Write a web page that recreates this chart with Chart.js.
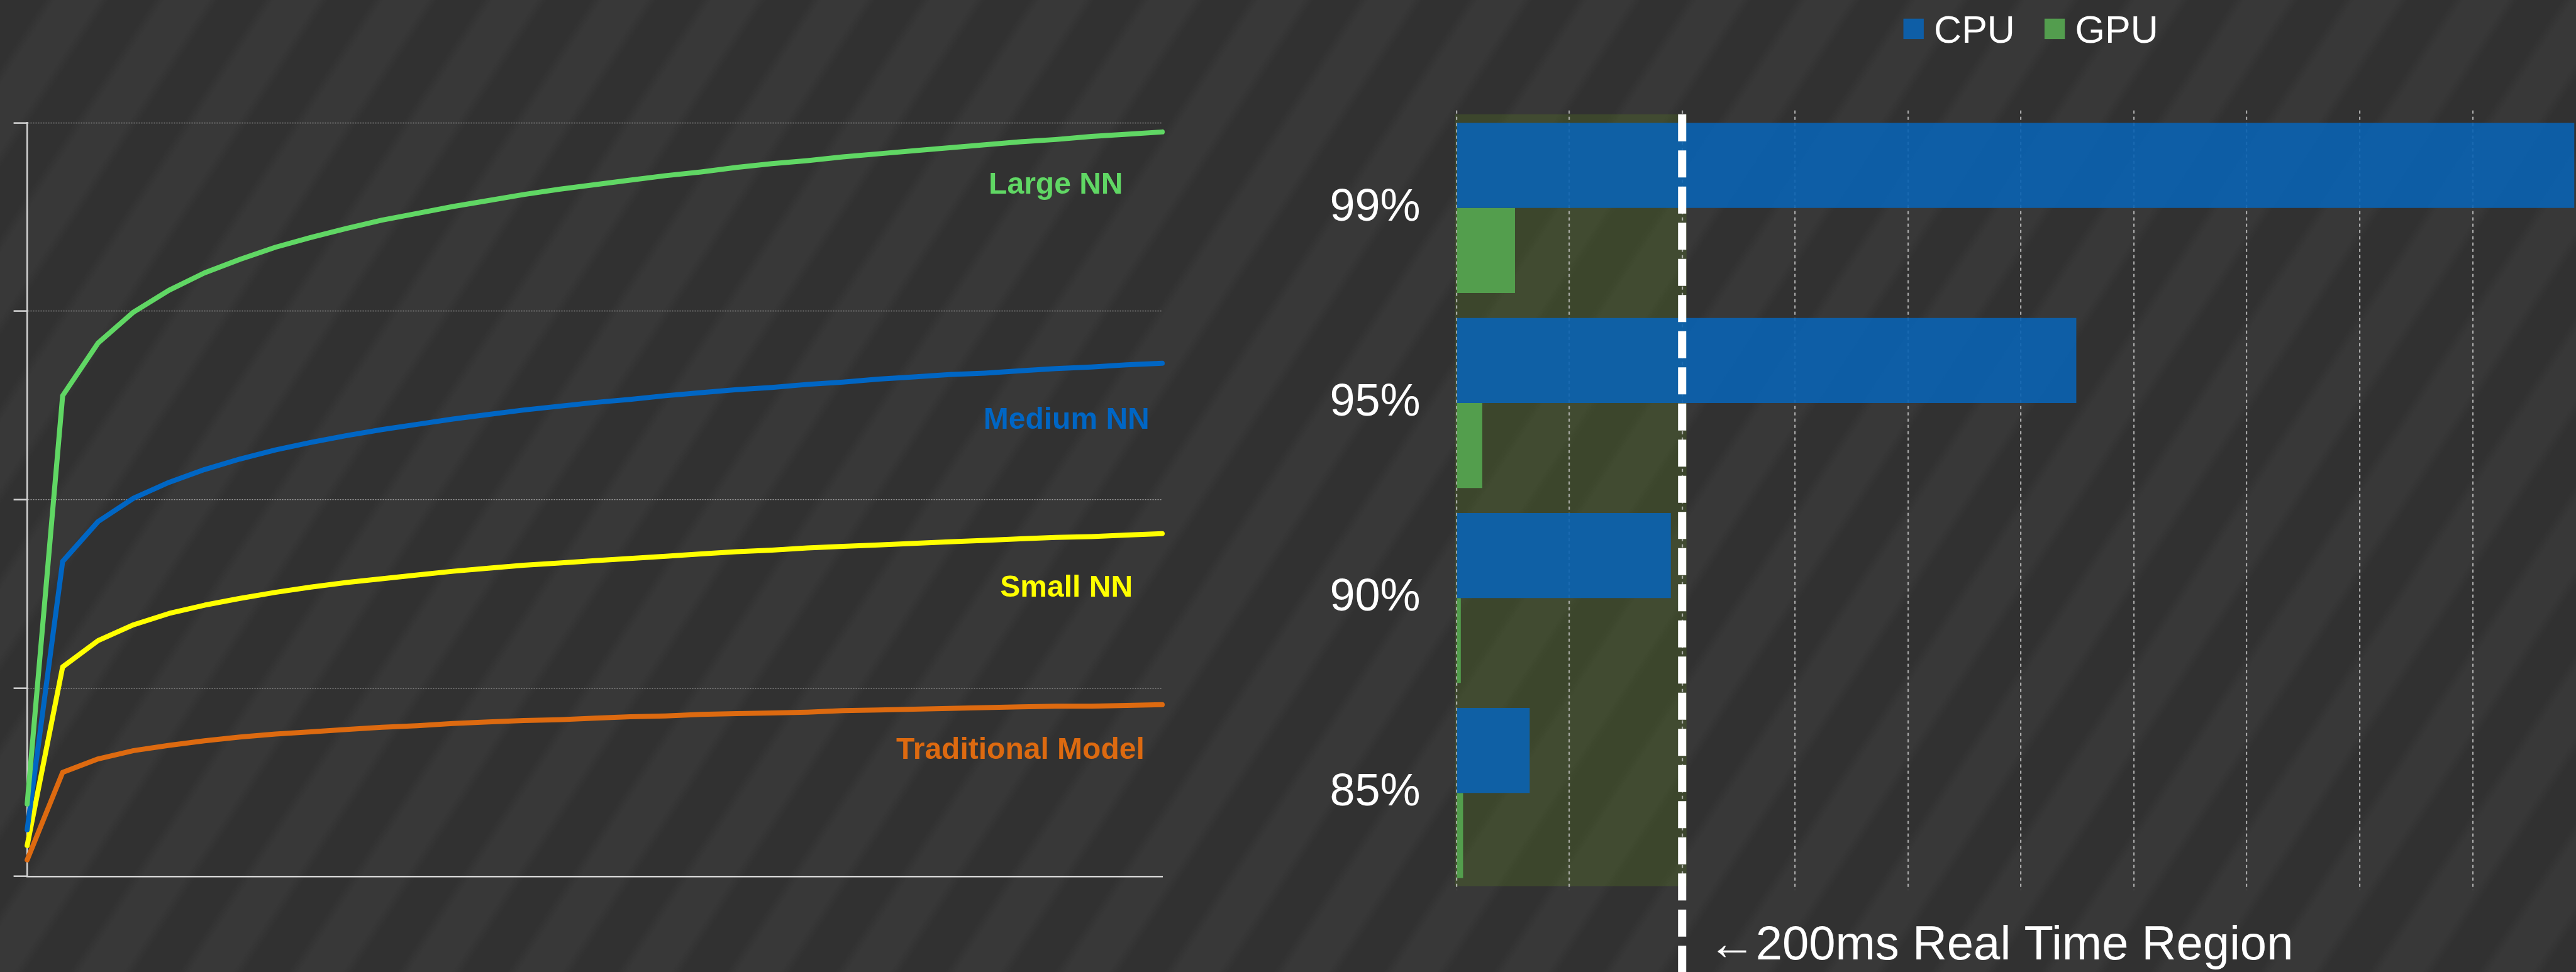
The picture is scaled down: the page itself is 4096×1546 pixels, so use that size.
<!DOCTYPE html>
<html>
<head>
<meta charset="utf-8">
<script src="https://cdn.jsdelivr.net/npm/chart.js@4.4.1/dist/chart.umd.min.js"></script>
<style>
html, body { margin: 0; padding: 0; width: 4096px; height: 1546px; overflow: hidden; }
body {
    background-color: #343434;
    background-image: repeating-linear-gradient(123deg, #313131 0px, #313131 58px, #383838 74px, #383838 130px, #313131 146px);
}
#accuracyBox { position: absolute; left: 0; top: 0; width: 1900px; height: 1546px; }
#latencyBox { position: absolute; left: 2000px; top: 0; width: 2096px; height: 1546px; }
</style>
</head>
<body>
<div id="accuracyBox"><canvas id="accuracyChart"></canvas></div>
<div id="latencyBox"><canvas id="latencyChart"></canvas></div>
<script>
// left chart: accuracy vs. amount of data (no axis labels in the original)
const steps = [0, 1, 2, 3, 4, 5, 6, 7, 8, 9, 10, 11, 12, 13, 14, 15, 16, 17, 18, 19, 20, 21, 22, 23, 24, 25, 26, 27, 28, 29, 30, 31, 32];
const largeNN = [9.6, 63.8, 70.8, 74.9, 77.8, 80.1, 81.9, 83.5, 84.8, 86.0, 87.1, 88.0, 88.9, 89.7, 90.5, 91.2, 91.8, 92.4, 93.0, 93.5, 94.1, 94.6, 95.0, 95.5, 95.9, 96.3, 96.7, 97.1, 97.5, 97.8, 98.2, 98.5, 98.8];
const mediumNN = [6.2, 41.8, 47.1, 50.2, 52.3, 54.0, 55.4, 56.6, 57.6, 58.5, 59.3, 60.0, 60.7, 61.3, 61.9, 62.4, 62.9, 63.3, 63.8, 64.2, 64.6, 64.9, 65.3, 65.6, 66.0, 66.3, 66.6, 66.8, 67.1, 67.4, 67.6, 67.9, 68.1];
const smallNN = [4.1, 27.8, 31.3, 33.4, 34.9, 36.0, 36.9, 37.7, 38.4, 39.0, 39.5, 40.0, 40.5, 40.9, 41.3, 41.6, 41.9, 42.2, 42.5, 42.8, 43.1, 43.3, 43.6, 43.8, 44.0, 44.2, 44.4, 44.6, 44.8, 45.0, 45.1, 45.3, 45.5];
const traditional = [2.2, 13.8, 15.6, 16.7, 17.4, 18.0, 18.5, 18.9, 19.2, 19.5, 19.8, 20.0, 20.3, 20.5, 20.7, 20.8, 21.0, 21.2, 21.3, 21.5, 21.6, 21.7, 21.8, 22.0, 22.1, 22.2, 22.3, 22.4, 22.5, 22.6, 22.6, 22.7, 22.8];
const modelNames = ['Large NN', 'Medium NN', 'Small NN', 'Traditional Model'];

// right chart: latency (ms) per percentile
const latencyLevels = ['99%', '95%', '90%', '85%'];
const cpuMs = [1000, 549, 190, 65];
const gpuMs = [52, 23, 4, 6];
const msTicks = [0, 100, 200, 300, 400, 500, 600, 700, 800, 900];
const realTimeMs = 200;

Chart.defaults.font.family = '"Liberation Sans", Arial, sans-serif';

// where each curve name sits, in chart units (x step, y value)
const labelSpots = [[29.0, 90.6], [29.3, 59.4], [29.3, 37.1], [28.0, 15.6]];

const lineLabels = {
    id: 'lineLabels',
    afterDatasetsDraw(chart) {
        const { ctx, scales: { x, y } } = chart;
        ctx.save();
        ctx.font = 'bold 48px "Liberation Sans", Arial, sans-serif';
        ctx.textAlign = 'center';
        ctx.textBaseline = 'alphabetic';
        chart.data.datasets.forEach((ds, i) => {
            ctx.fillStyle = ds.borderColor;
            ctx.fillText(ds.label, x.getPixelForValue(labelSpots[i][0]), y.getPixelForValue(labelSpots[i][1]));
        });
        ctx.restore();
    }
};

const lineColors = ['#60d764', '#0066c4', '#ffff00', '#dd6a10'];
const lineSeries = [largeNN, mediumNN, smallNN, traditional];

new Chart(document.getElementById('accuracyChart'), {
    type: 'line',
    data: {
        labels: steps,
        datasets: lineSeries.map((values, i) => ({
            label: modelNames[i],
            data: values,
            borderColor: lineColors[i],
            borderWidth: 8,
            pointRadius: 0,
            borderCapStyle: 'round',
            borderJoinStyle: 'round',
            tension: 0,
            clip: false
        }))
    },
    options: {
        responsive: true,
        maintainAspectRatio: false,
        animation: false,
        layout: { padding: { left: 21.6, right: 52, top: 195.5, bottom: 144 } },
        plugins: { legend: { display: false }, tooltip: { enabled: false } },
        scales: {
            x: {
                offset: false,
                ticks: { display: false },
                grid: { display: false },
                border: { display: true, color: '#d4d4d4', width: 2.5 }
            },
            y: {
                min: 0,
                max: 100,
                ticks: { display: false, stepSize: 25 },
                grid: {
                    color: 'rgba(200,200,200,0.7)',
                    lineWidth: 1.3,
                    tickLength: 21.6,
                    tickColor: '#d4d4d4',
                    tickWidth: 2.5,
                    tickBorderDash: []
                },
                border: { display: true, color: '#d4d4d4', width: 2.5, dash: [2, 2] },
                afterFit: (scale) => { scale.width = 21.6; }
            }
        }
    },
    plugins: [lineLabels]
});

// green "real time" band, the dashed 200ms marker, its caption and the legend
const realTime = {
    id: 'realTime',
    beforeDraw(chart) {
        const { ctx, chartArea: a, scales: { x } } = chart;
        const x0 = x.getPixelForValue(0);
        const x1 = x.getPixelForValue(realTimeMs);
        ctx.save();
        ctx.fillStyle = 'rgba(107,157,27,0.2)';
        ctx.fillRect(x0 - 2, a.top + 6, x1 - x0 + 9, a.bottom - a.top - 13);
        ctx.restore();
    },
    afterDraw(chart) {
        const { ctx, chartArea: a, scales: { x } } = chart;
        const px = x.getPixelForValue(realTimeMs);
        ctx.save();
        ctx.strokeStyle = '#ffffff';
        ctx.lineWidth = 13;
        ctx.setLineDash([43, 14.5]);
        ctx.beginPath();
        ctx.moveTo(px, a.top + 6);
        ctx.lineTo(px, chart.height);
        ctx.stroke();
        ctx.setLineDash([]);

        ctx.fillStyle = '#ffffff';
        ctx.font = '76px "Liberation Sans", Arial, sans-serif';
        ctx.textAlign = 'left';
        ctx.textBaseline = 'alphabetic';
        ctx.fillText('\u2190' + realTimeMs + 'ms Real Time Region', px + 41, 1526);

        let lx = 1026.5;
        ctx.font = '61px "Liberation Sans", Arial, sans-serif';
        chart.data.datasets.forEach(ds => {
            ctx.fillStyle = ds.backgroundColor;
            ctx.fillRect(lx, 29.7, 32.4, 32.4);
            ctx.fillStyle = '#ffffff';
            ctx.fillText(ds.label, lx + 48.6, 67.6);
            lx += 48.6 + ctx.measureText(ds.label).width + 47;
        });
        ctx.restore();
    }
};

new Chart(document.getElementById('latencyChart'), {
    type: 'bar',
    data: {
        labels: latencyLevels,
        datasets: [
            { label: 'CPU', data: cpuMs, backgroundColor: 'rgba(10,99,179,0.9)' },
            { label: 'GPU', data: gpuMs, backgroundColor: 'rgba(86,166,80,0.92)' }
        ]
    },
    options: {
        indexAxis: 'y',
        responsive: true,
        maintainAspectRatio: false,
        animation: false,
        layout: { padding: { left: 0, right: 2.7, top: 175.7, bottom: 129.6 } },
        datasets: { bar: { categoryPercentage: 0.872, barPercentage: 1.0 } },
        plugins: { legend: { display: false }, tooltip: { enabled: false } },
        scales: {
            x: {
                type: 'linear',
                min: 0,
                max: 990,
                ticks: { display: false },
                // tick generation drops the inner ticks when labels are hidden, so set them here
                afterBuildTicks: (scale) => { scale.ticks = msTicks.map(v => ({ value: v })); },
                grid: { color: 'rgba(205,205,205,0.75)', lineWidth: 2.2, drawTicks: false },
                border: { display: false, dash: [5, 5] }
            },
            y: {
                ticks: { color: '#ffffff', font: { size: 72 }, padding: 49 },
                grid: { display: false },
                border: { display: false },
                afterFit: (scale) => { scale.width = 315.6; }
            }
        }
    },
    plugins: [realTime]
});
</script>
</body>
</html>
